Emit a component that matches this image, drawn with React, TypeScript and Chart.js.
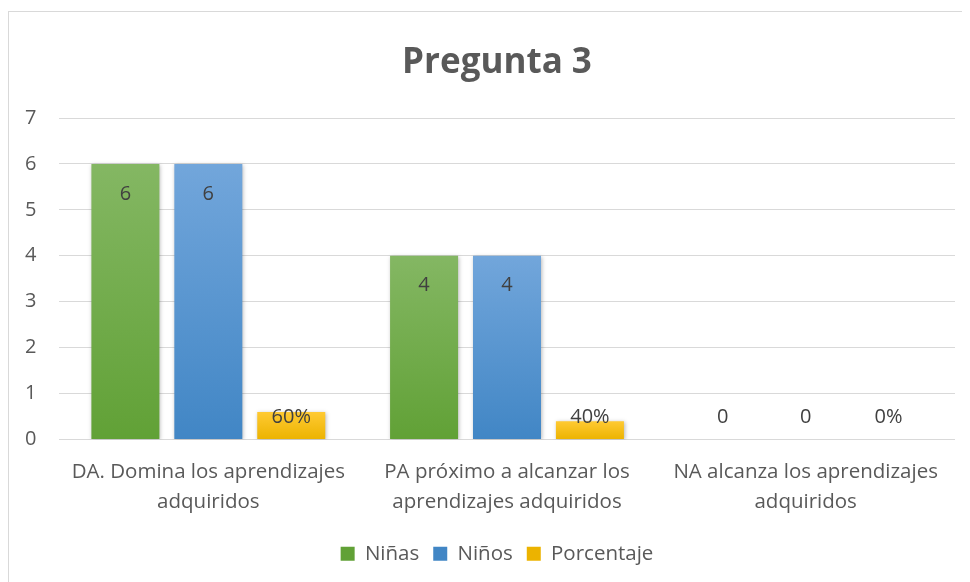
import React, { useEffect, useRef } from "react";
import { Chart, registerables } from "chart.js";

Chart.register(...registerables);

const TITLE = "Pregunta 3";
const categories: string[][] = [
  ["DA. Domina los aprendizajes", "adquiridos"],
  ["PA próximo a alcanzar los", "aprendizajes adquiridos"],
  ["NA alcanza los aprendizajes", "adquiridos"],
];
const seriesNames = ["Niñas", "Niños", "Porcentaje"];
const ninas = [6, 4, 0];
const ninos = [6, 4, 0];
const porcentaje = [0.6, 0.4, 0];
const yTicks = [0, 1, 2, 3, 4, 5, 6, 7];

const FONT = "'Open Sans', Lato, sans-serif";
const TEXT = "#595959";

const gradStops: Record<string, [string, string]> = {
  "Niñas": ["#84b763", "#61a136"],
  "Niños": ["#72a6db", "#4186c5"],
  "Porcentaje": ["#ffca33", "#ecb300"],
};

function barFill(name: string) {
  return (c: any) => {
    const chart = c.chart;
    const area = chart.chartArea;
    const [top, bottom] = gradStops[name];
    if (!area || c.type !== "data") return bottom;
    const y = chart.scales.y;
    const yTop = y.getPixelForValue(c.raw);
    const yBot = y.getPixelForValue(0);
    if (Math.abs(yBot - yTop) < 1) return bottom;
    const g = chart.ctx.createLinearGradient(0, yTop, 0, yBot);
    g.addColorStop(0, top);
    g.addColorStop(1, bottom);
    return g;
  };
}

const shadowPlugin = {
  id: "barShadow",
  beforeDatasetsDraw(chart: any) {
    const ctx = chart.ctx;
    ctx.save();
    ctx.shadowColor = "rgba(0,0,0,0.28)";
    ctx.shadowBlur = 4;
    ctx.shadowOffsetX = 1;
    ctx.shadowOffsetY = 1;
  },
  afterDatasetsDraw(chart: any) {
    chart.ctx.restore();
  },
};

const labelPlugin = {
  id: "valueLabels",
  afterDraw(chart: any) {
    const ctx = chart.ctx;
    ctx.save();
    ctx.font = `20px ${FONT}`;
    ctx.fillStyle = "#404040";
    ctx.textAlign = "center";
    ctx.textBaseline = "middle";
    const base = chart.scales.y.getPixelForValue(0);
    chart.data.datasets.forEach((ds: any, di: number) => {
      const meta = chart.getDatasetMeta(di);
      meta.data.forEach((el: any, i: number) => {
        const v = ds.data[i];
        const txt = ds.label === "Porcentaje" ? `${Math.round(v * 100)}%` : String(v);
        const y = Math.min(el.y + 30, base - 22);
        ctx.fillText(txt, el.x, y);
      });
    });
    ctx.restore();
  },
};

export default function App() {
  const ref = useRef<HTMLCanvasElement>(null);
  useEffect(() => {
    if (!ref.current) return;
    const series = [ninas, ninos, porcentaje];
    const chart = new Chart(ref.current, {
      type: "bar",
      data: {
        labels: categories,
        datasets: seriesNames.map((name, i) => ({
          label: name,
          data: series[i],
          backgroundColor: barFill(name),
          borderWidth: 0,
          categoryPercentage: 0.833,
          barPercentage: 0.82,
        })),
      },
      options: {
        responsive: false,
        animation: false,
        layout: { padding: { left: 30, right: 15, top: 0, bottom: 8 } },
        plugins: {
          title: {
            display: true,
            text: TITLE,
            color: TEXT,
            font: { family: FONT, size: 35, weight: "bold" },
            padding: { top: 30, bottom: 34 },
          },
          legend: {
            position: "bottom",
            labels: {
              color: TEXT,
              font: { family: FONT, size: 20.5 },
              boxWidth: 14,
              boxHeight: 14,
              padding: 14,
              generateLabels: (ch: any) =>
                seriesNames.map((n, i) => ({
                  text: n,
                  fillStyle: gradStops[n][1],
                  strokeStyle: gradStops[n][1],
                  lineWidth: 0,
                  hidden: false,
                  datasetIndex: i,
                  fontColor: TEXT,
                })),
            },
          },
          tooltip: { enabled: false },
        },
        scales: {
          x: {
            grid: { display: false, drawTicks: false },
            border: { display: false },
            ticks: {
              color: TEXT,
              font: { family: FONT, size: 20.5, lineHeight: "30px" },
              padding: 18,
              maxRotation: 0,
              autoSkip: false,
            },
            afterFit: (s: any) => {
              s.height = 90;
            },
          },
          y: {
            min: 0,
            max: 7,
            afterBuildTicks: (s: any) => {
              s.ticks = yTicks.map((v) => ({ value: v }));
            },
            grid: { color: "#d9d9d9", lineWidth: 1, drawTicks: false },
            border: { display: false },
            ticks: {
              color: TEXT,
              font: { family: FONT, size: 20 },
              mirror: true,
              padding: -34,
            },
            afterFit: (s: any) => {
              s.width = 20;
            },
          },
        },
      },
      plugins: [shadowPlugin, labelPlugin],
    });
    return () => chart.destroy();
  }, []);
  return (
    <div
      style={{
        marginTop: 3,
        width: 961,
        height: 571,
        borderLeft: "1px solid #d9d9d9",
        borderTop: "1px solid #d9d9d9",
        overflow: "hidden",
      }}
    >
      <canvas ref={ref} width={961} height={570} style={{ display: "block" }} />
    </div>
  );
}
